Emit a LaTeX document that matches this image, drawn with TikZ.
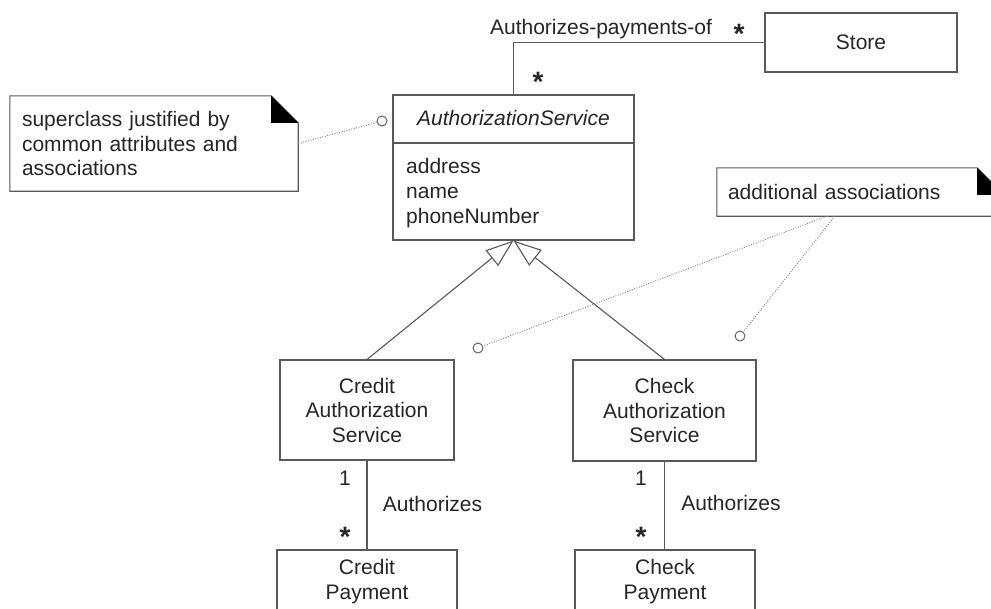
\documentclass[tikz,border=0pt]{standalone}
\usepackage{fontspec}
\setmainfont{Liberation Sans}
\usetikzlibrary{arrows.meta,calc}
\begin{document}
\begin{tikzpicture}[x=1pt,y=-1pt,
  every node/.style={font=\fontsize{21}{24.5}\selectfont, text=black!85, inner sep=0pt},
  box/.style={draw=black!65, line width=1.1pt, rectangle},
  assoc/.style={draw=black!65, line width=1.1pt},
  notebox/.style={draw=black!65, line width=1.1pt},
  gen/.style={draw=black!65, line width=1.1pt, -{Triangle[open,length=28pt,width=20pt]}},
  dotline/.style={draw=black!50, line width=0.9pt, dash pattern=on 1pt off 1.5pt},
  anchorc/.style={draw=black!60, line width=1pt, circle, minimum size=10pt, fill=white},
  starmark/.style={anchor=base, font=\fontsize{28}{28}\selectfont\bfseries}
]
\useasboundingbox (0,0) rectangle (991,608);
\fill[white] (0,0) rectangle (991,608);

% classes
\node[box, minimum width=192pt, minimum height=59pt] (store) at (861,42.5) {Store};
\node[box, minimum width=241pt, minimum height=145pt] (auth) at (513.5,167.5) {};
\draw[assoc] (auth.west |- 0,143) -- (auth.east |- 0,143);
\node[anchor=base, font=\fontsize{21}{24.5}\selectfont\itshape] (authtitle) at (513.5,125) {AuthorizationService};
\node[anchor=base west] (attr1) at (406,173) {address};
\node[anchor=base west] (attr2) at (406,198) {name};
\node[anchor=base west] (attr3) at (406,223) {phoneNumber};

\node[box, minimum width=174pt, minimum height=100pt, align=center] (credit) at (367,410) {Credit\\Authorization\\Service};
\node[box, minimum width=183pt, minimum height=101pt, align=center] (check) at (664.5,410.5) {Check\\Authorization\\Service};

\node[box, minimum width=180pt, minimum height=90pt] (cpay) at (367,595) {};
\node[align=center] (cpaytext) at (367,581.5) {Credit\\Payment};
\node[box, minimum width=180pt, minimum height=90pt] (kpay) at (665,595) {};
\node[align=center] (kpaytext) at (665,581.5) {Check\\Payment};

% associations
\draw[assoc] (store.west) -| (auth.north);
\draw[assoc] (credit.south) -- (cpay.north);
\draw[assoc] (check.south) -- (check.south |- kpay.north);

% generalizations
\draw[gen] (credit.north) -- (auth.south);
\draw[gen] (check.north) -- (auth.south);

% labels
\node[anchor=base] (lblpay) at (601,34) {Authorizes-payments-of};
\node[starmark] (st1) at (739,43) {*};
\node[starmark] (st2) at (538,91) {*};
\node[anchor=base] (one1) at (345,485) {1};
\node[anchor=base] (auz1) at (432.5,511) {Authorizes};
\node[starmark] (st3) at (345,546) {*};
\node[anchor=base] (one2) at (641,485) {1};
\node[anchor=base] (auz2) at (731,510) {Authorizes};
\node[starmark] (st4) at (641,546) {*};

% notes
\node[minimum width=288pt, minimum height=95pt, text width=264pt, align=left] (note1) at (154,143.5) {superclass justified by\\common attributes and\\associations};
\draw[notebox] (note1.north west) -- ($(note1.north east)+(-27,0)$) -- ($(note1.north east)+(0,27)$) -- (note1.south east) -- (note1.south west) -- cycle;
\fill[black] ($(note1.north east)+(-27,0)$) -- ($(note1.north east)+(-27,27)$) -- ($(note1.north east)+(0,27)$) -- cycle;

\node[minimum width=287pt, minimum height=48pt, text width=265pt, align=left] (note2) at (860.5,192) {additional associations};
\draw[notebox] (note2.north west) -- ($(note2.north east)+(-27,0)$) -- ($(note2.north east)+(0,27)$) -- (note2.south east) -- (note2.south west) -- cycle;
\fill[black] ($(note2.north east)+(-27,0)$) -- ($(note2.north east)+(-27,27)$) -- ($(note2.north east)+(0,27)$) -- cycle;

% note anchors
\node[anchorc] (c1) at (382,121) {};
\node[anchorc] (c2) at (478,348) {};
\node[anchorc] (c3) at (740,336) {};
\coordinate (n2a) at ($(note2.south west)+(110,0)$);
\coordinate (n2b) at ($(note2.south west)+(118,0)$);
\draw[dotline] (note1.east) -- (c1);
\draw[dotline] (n2a) -- (c2);
\draw[dotline] (n2b) -- (c3);
\end{tikzpicture}
\end{document}
